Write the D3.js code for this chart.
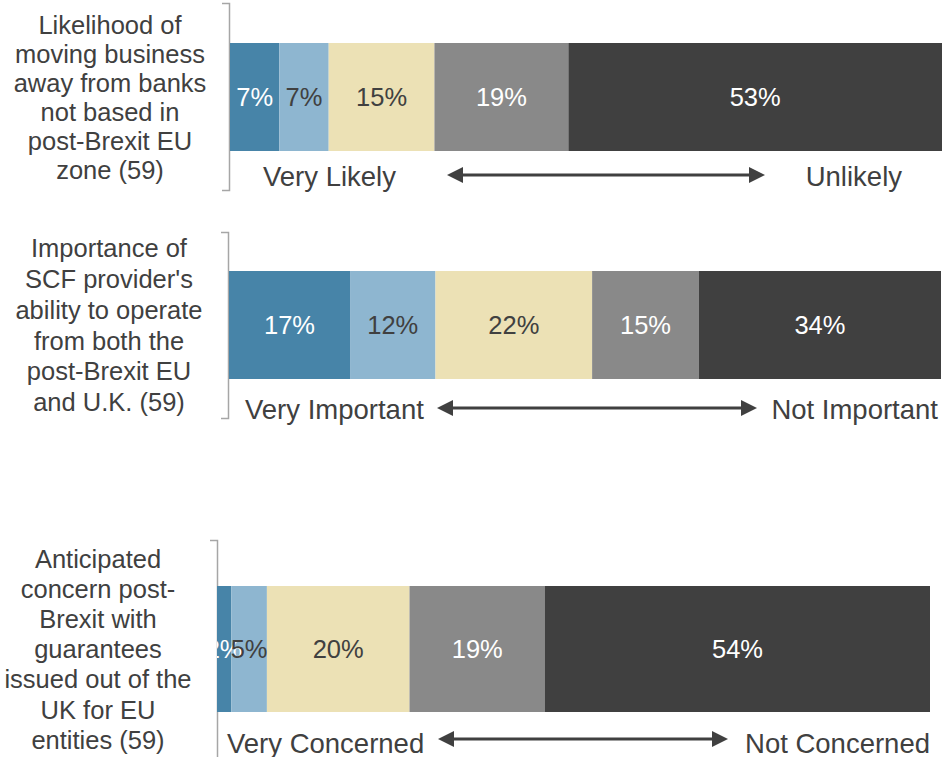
<!DOCTYPE html>
<html>
<head>
<meta charset="utf-8">
<script src="https://cdn.jsdelivr.net/npm/d3@7"></script>
<style>
  html, body { margin: 0; padding: 0; background: #fff; }
  svg { display: block; font-family: "Liberation Sans", Arial, sans-serif; }
</style>
</head>
<body>
<svg id="chart" width="951" height="757"></svg>
<script>
// Survey questions (respondents in brackets)
const questions = [
  ["Likelihood of", "moving business", "away from banks", "not based in", "post-Brexit EU", "zone (59)"],
  ["Importance of", "SCF provider's", "ability to operate", "from both the", "post-Brexit EU", "and U.K. (59)"],
  ["Anticipated", "concern post-", "Brexit with", "guarantees", "issued out of the", "UK for EU", "entities (59)"]
];

// Share of responses per scale point, from the strongest answer to the weakest
const likelihoodValues = [7, 7, 15, 19, 53];
const importanceValues = [17, 12, 22, 15, 34];
const concernValues = [2, 5, 20, 19, 54];
const seriesValues = [likelihoodValues, importanceValues, concernValues];

// Scale end-point labels
const leftEnds = ["Very Likely", "Very Important", "Very Concerned"];
const rightEnds = ["Unlikely", "Not Important", "Not Concerned"];

// Colours of the five scale points and the text drawn on them
const segmentColors = ["#4784a8", "#8eb6d0", "#ece1b5", "#898989", "#404040"];
const segmentText = ["#ffffff", "#404040", "#404040", "#ffffff", "#ffffff"];

// Panel geometry
const layout = [
  { axisX: 229, axisTop: 3,   axisBottom: 190, x0: 230, x1: 942, barTop: 43,  barH: 108, lineGap: 29,
    arrowY: 175, textY: 176, leftX: 263, rightX: 902, arrowL: 447, arrowR: 765 },
  { axisX: 228, axisTop: 232, axisBottom: 418, x0: 229, x1: 941, barTop: 271, barH: 108, lineGap: 30.8,
    arrowY: 408, textY: 409, leftX: 245, rightX: 938, arrowL: 437, arrowR: 757 },
  { axisX: 217, axisTop: 540, axisBottom: 780, x0: 217, x1: 930, barTop: 586, barH: 126, lineGap: 30.2,
    arrowY: 739, textY: 743, leftX: 227, rightX: 930, arrowL: 438, arrowR: 728 }
];

const svg = d3.select("#chart");
const defs = svg.append("defs");
const textColor = "#404040";

questions.forEach((lines, p) => {
  const L = layout[p];
  const values = seriesValues[p];
  const total = d3.sum(values);
  const g = svg.append("g");

  // Horizontal value scale for this bar
  const x = d3.scaleLinear().domain([0, total]).range([L.x0, L.x1]);

  // Value labels stay inside the plot area
  defs.append("clipPath").attr("id", `plot-${p}`)
    .append("rect")
    .attr("x", L.x0).attr("y", L.barTop)
    .attr("width", L.x1 - L.x0).attr("height", L.barH);

  // Category axis: a bracket with outer ticks only
  const y = d3.scaleLinear().domain([0, 1]).range([L.axisTop, L.axisBottom]);
  const axis = g.append("g")
    .attr("transform", `translate(${L.axisX},0)`)
    .call(d3.axisLeft(y).tickValues([]).tickSizeOuter(7));
  axis.select(".domain").attr("stroke", "#a6a6a6").attr("stroke-width", 1.5);

  // Stacked segments
  const stacked = [];
  let acc = 0;
  values.forEach((v, i) => { stacked.push({ v, i, start: acc, end: acc + v }); acc += v; });

  g.selectAll("rect.seg").data(stacked).join("rect")
    .attr("class", "seg")
    .attr("x", d => x(d.start))
    .attr("y", L.barTop)
    .attr("width", d => x(d.end) - x(d.start))
    .attr("height", L.barH)
    .attr("fill", d => segmentColors[d.i]);

  g.append("g").attr("clip-path", `url(#plot-${p})`)
    .selectAll("text.val").data(stacked).join("text")
    .attr("class", "val")
    .attr("x", d => (x(d.start) + x(d.end)) / 2)
    .attr("y", L.barTop + L.barH / 2)
    .attr("dy", "0.36em")
    .attr("text-anchor", "middle")
    .attr("font-size", 25.5)
    .attr("fill", d => segmentText[d.i])
    .text(d => d.v + "%");

  // Question label, centred on the bar
  const cy = L.barTop + L.barH / 2;
  const n = lines.length;
  g.append("text")
    .attr("text-anchor", "middle")
    .attr("font-size", 25.5)
    .attr("fill", textColor)
    .selectAll("tspan").data(lines).join("tspan")
    .attr("x", L.axisX - 119)
    .attr("y", (d, i) => cy + (i - (n - 1) / 2) * L.lineGap)
    .attr("dy", "0.36em")
    .text(d => d);

  // Scale end labels and double-headed arrow
  g.append("text")
    .attr("x", L.leftX).attr("y", L.textY).attr("dy", "0.36em")
    .attr("font-size", 27.5).attr("fill", textColor)
    .text(leftEnds[p]);
  g.append("text")
    .attr("x", L.rightX).attr("y", L.textY).attr("dy", "0.36em")
    .attr("text-anchor", "end")
    .attr("font-size", 27.5).attr("fill", textColor)
    .text(rightEnds[p]);

  const head = 16, half = 8;
  g.append("line")
    .attr("x1", L.arrowL + head - 1).attr("x2", L.arrowR - head + 1)
    .attr("y1", L.arrowY).attr("y2", L.arrowY)
    .attr("stroke", textColor).attr("stroke-width", 3);
  g.append("path")
    .attr("d", `M${L.arrowL},${L.arrowY} L${L.arrowL + head},${L.arrowY - half} L${L.arrowL + head},${L.arrowY + half} Z`)
    .attr("fill", textColor);
  g.append("path")
    .attr("d", `M${L.arrowR},${L.arrowY} L${L.arrowR - head},${L.arrowY - half} L${L.arrowR - head},${L.arrowY + half} Z`)
    .attr("fill", textColor);
});
</script>
</body>
</html>
